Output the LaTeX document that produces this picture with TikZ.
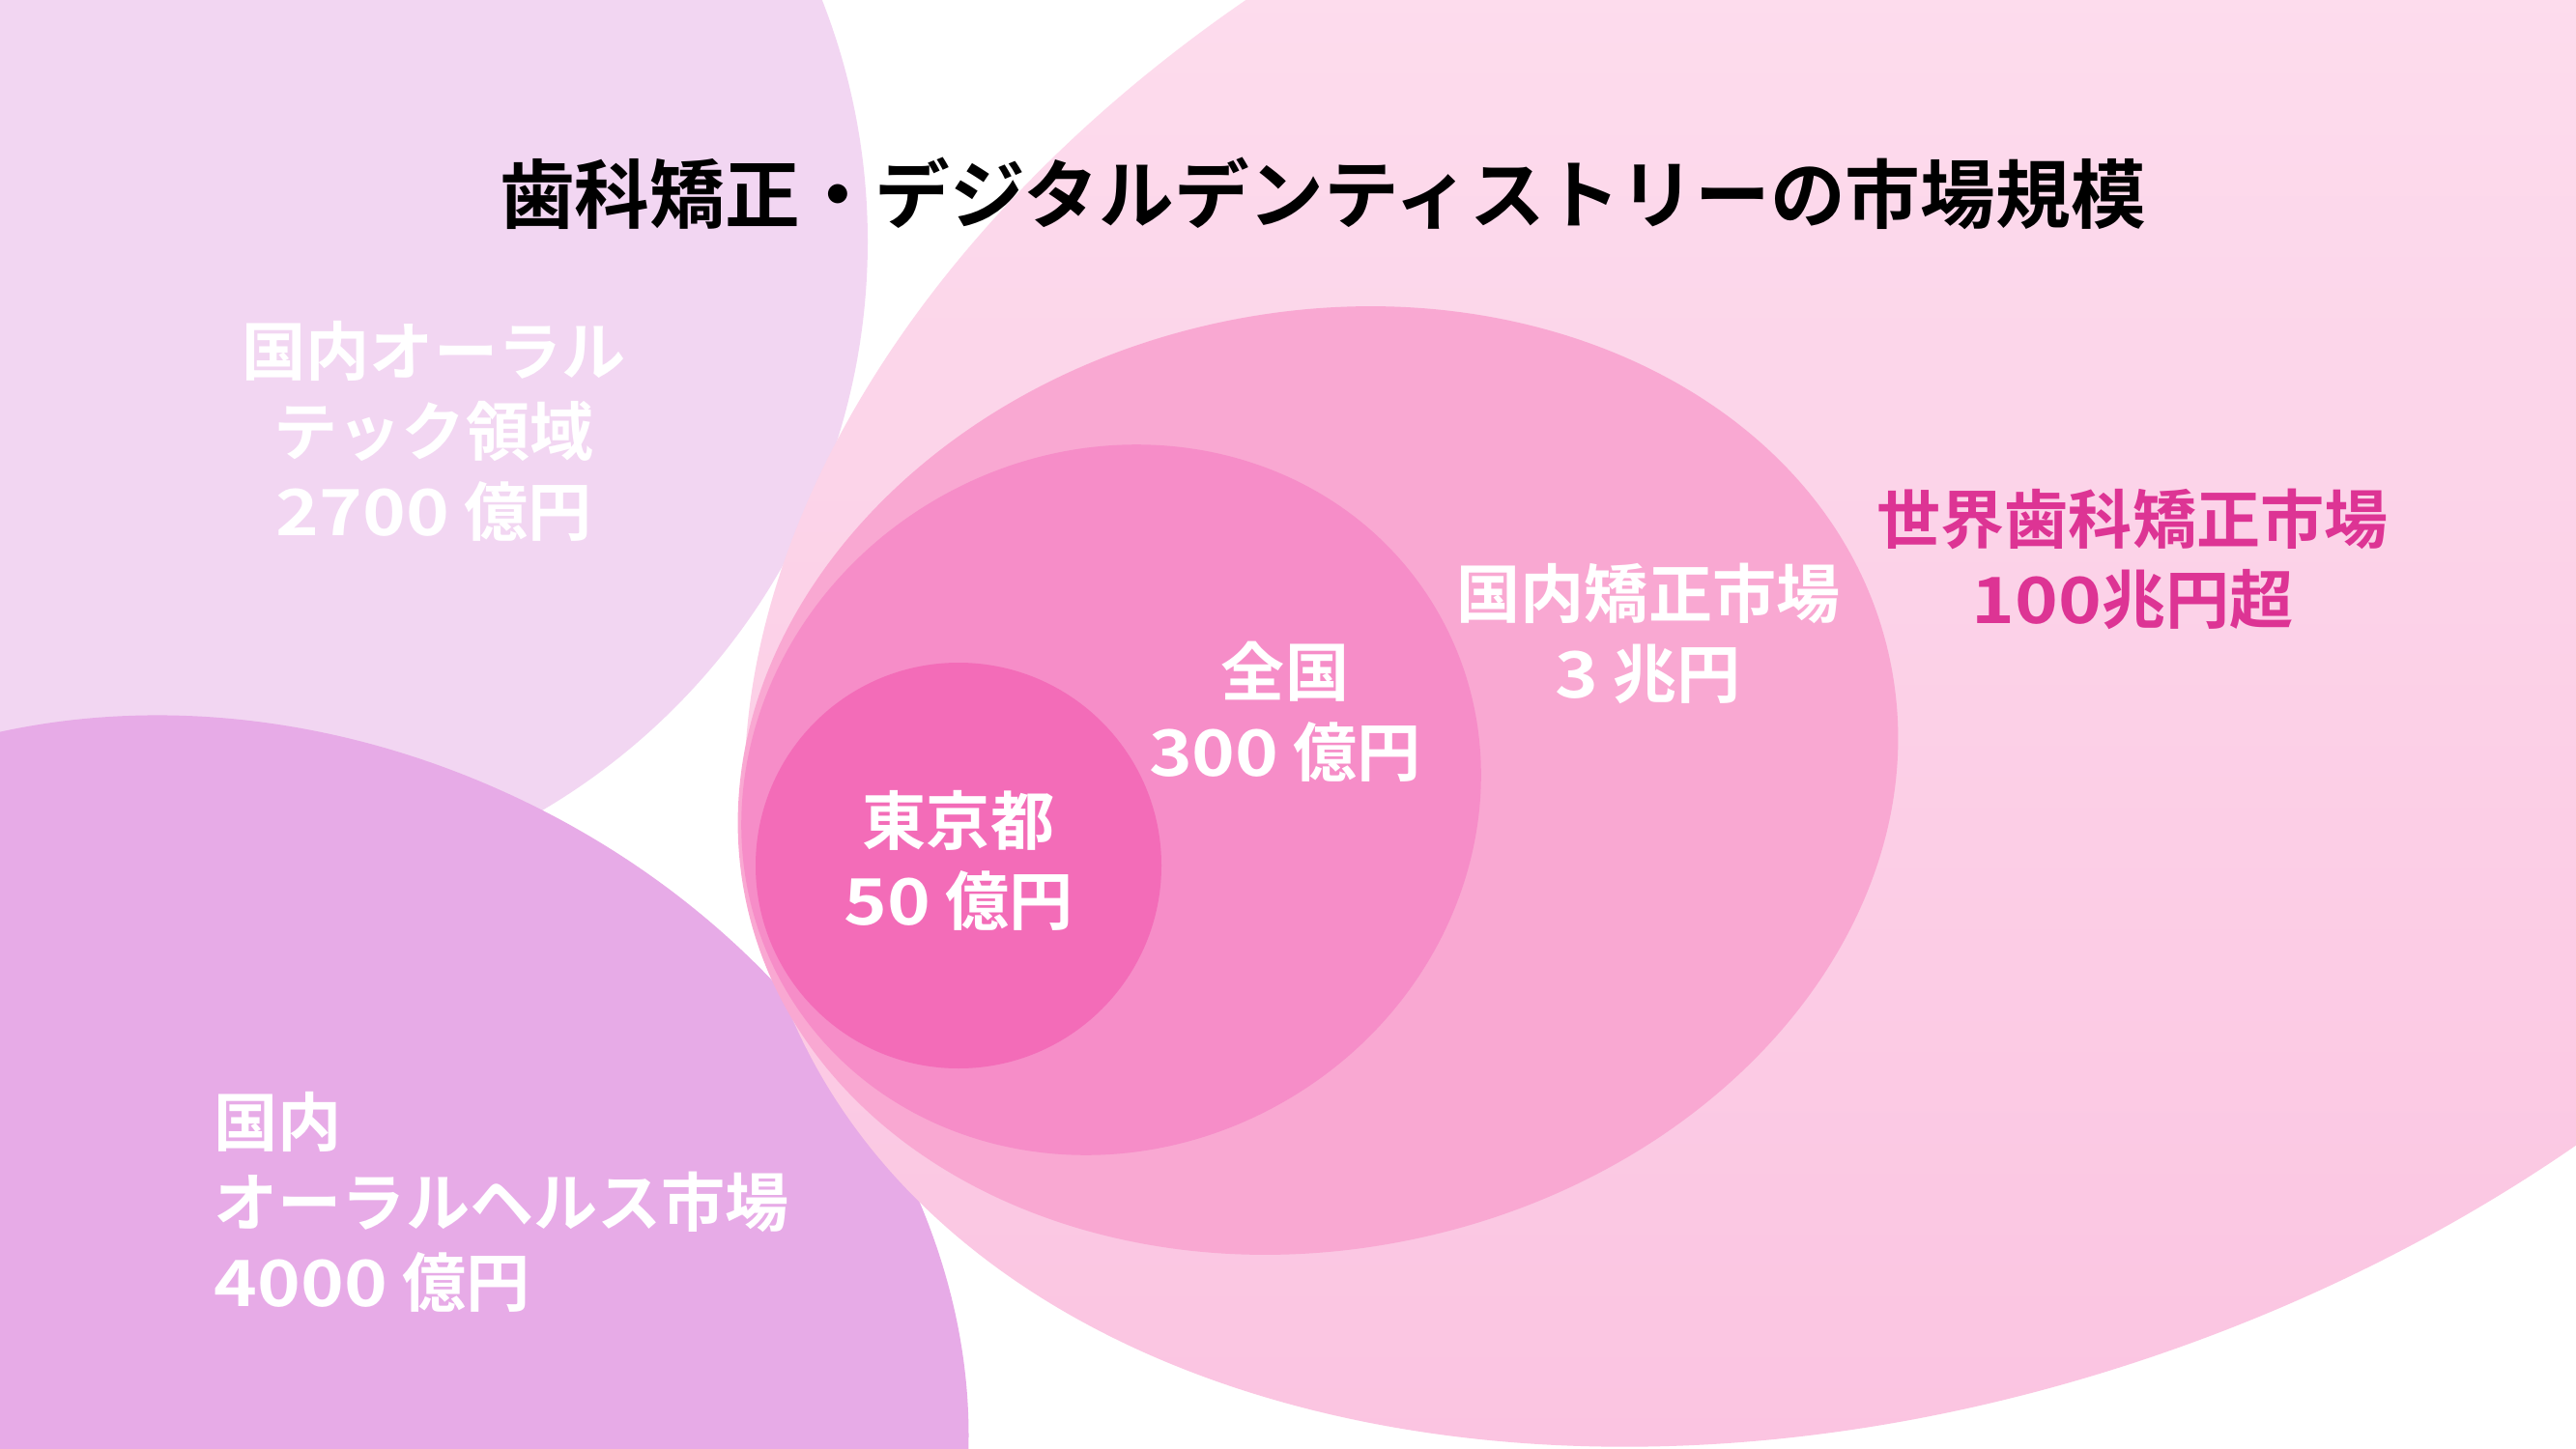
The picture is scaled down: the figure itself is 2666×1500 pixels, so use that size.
\documentclass[tikz,border=0pt]{standalone}
\usepackage{fontspec}
\setmainfont{Noto Sans CJK JP}[BoldFont={* Bold}]
\newfontfamily\numfont{Noto Sans CJK JP}[UprightFont={* Bold},BoldFont={* Bold},FakeStretch=1.15]
\newcommand{\digs}[1]{{\numfont #1}}
\definecolor{lavbg}{HTML}{F2D6F2}
\definecolor{purbg}{HTML}{E7ABE7}
\definecolor{worldtop}{HTML}{FDE0EF}
\definecolor{worldbot}{HTML}{FBC2E0}
\definecolor{kokunaibg}{HTML}{F9A8D2}
\definecolor{zenkokubg}{HTML}{F68DC8}
\definecolor{tokyobg}{HTML}{F36CB8}
\definecolor{sekaitxt}{HTML}{DD3494}

\begin{document}
\begin{tikzpicture}[x=0.01cm,y=-0.01cm,
  lbl/.style={text=white,font=\bfseries\fontsize{18.8}{23.6}\selectfont,align=center,inner sep=0pt},
  ttl/.style={font=\bfseries\fontsize{22.1}{26}\selectfont,inner sep=0pt}
]
  \useasboundingbox (0,0) rectangle (2666,1500);
  \clip (0,0) rectangle (2666,1500);
  \fill[white] (0,0) rectangle (2666,1500);

  \fill[lavbg] (215,250) circle [radius=683];
  \fill[purbg, rotate around={-25.5:(271,1389)}] (271,1389) ellipse [x radius=754, y radius=622];
  \shade[top color=worldtop, bottom color=worldbot, rotate around={20:(1976,594)}]
    (1976,594) ellipse [x radius=1245, y radius=848];
  \fill[kokunaibg, rotate around={12:(1364,808)}] (1364,808) ellipse [x radius=605, y radius=485];
  \fill[zenkokubg, rotate around={30:(1150,828)}] (1150,828) ellipse [x radius=390, y radius=360];
  \fill[tokyobg] (992,896) circle [radius=210];

  \node[ttl] (title) at (1369,200) {歯科矯正・デジタルデンティストリーの市場規模};
  \node[lbl] (tech) at (449,446) {国内オーラル\\テック領域\\\digs{2700} 億円};
  \node[lbl,align=left,anchor=west] (health) at (221,1244) {国内\\オーラルヘルス市場\\\digs{4000} 億円};
  \node[lbl] (tokyo) at (992,891) {東京都\\\digs{50} 億円};
  \node[lbl] (zenkoku) at (1330,737) {全国\\\digs{300} 億円};
  \node[lbl] (kokunai) at (1706,656) {国内矯正市場\\\digs{3} 兆円};
  \node[lbl,text=sekaitxt] (sekai) at (2207,579) {世界歯科矯正市場\\\digs{100}兆円超};
\end{tikzpicture}
\end{document}
